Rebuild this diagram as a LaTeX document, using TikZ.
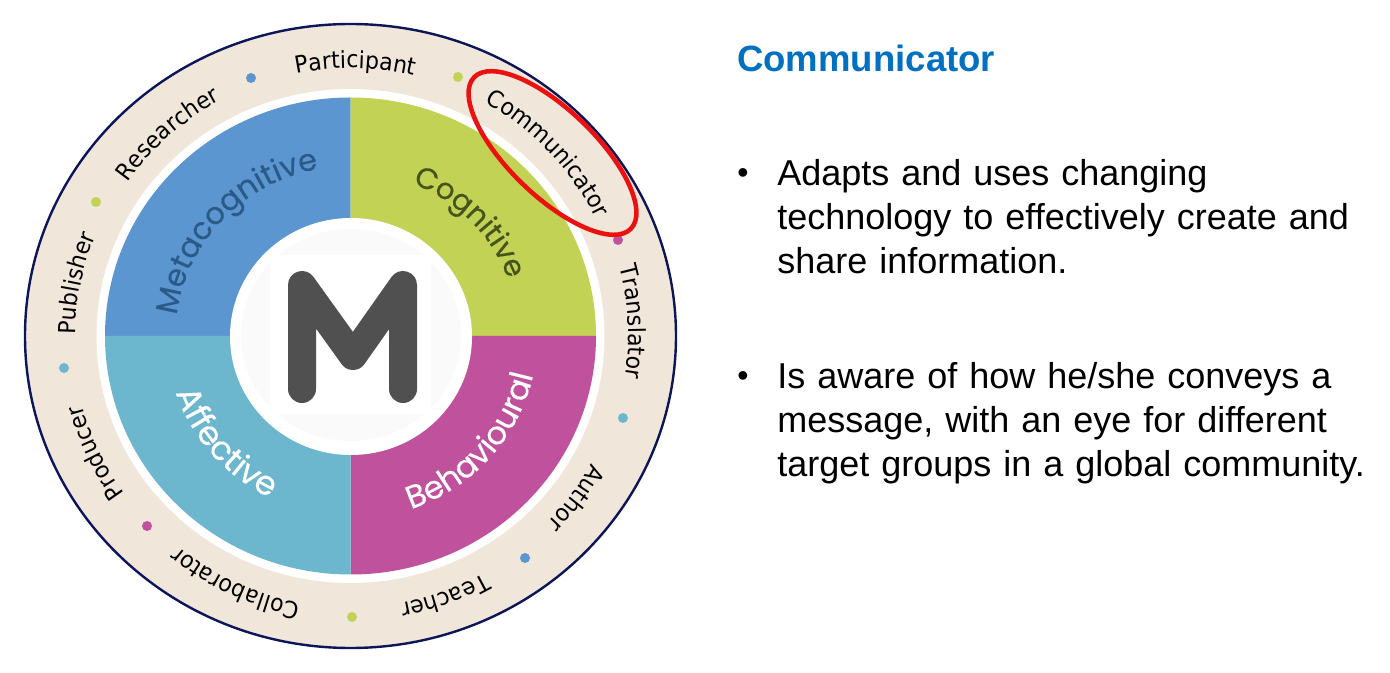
\documentclass[tikz,border=0pt]{standalone}
\usepackage{fontspec}
\setmainfont{Liberation Sans}
\newfontfamily\ringfont[FakeStretch=0.94]{DejaVu Sans}
\newfontfamily\sectorfont[FakeBold=0.25]{Poppins}
\usetikzlibrary{positioning, decorations.text}
\definecolor{ringbg}{HTML}{F0E6DA}
\definecolor{ringline}{HTML}{0B1557}
\definecolor{metabg}{HTML}{5B96D0}
\definecolor{metatext}{HTML}{2A5A88}
\definecolor{cogbg}{HTML}{C1D255}
\definecolor{cogtext}{HTML}{46541C}
\definecolor{affbg}{HTML}{6DB7CE}
\definecolor{behbg}{HTML}{C0519C}
\definecolor{logoline}{HTML}{505050}
\definecolor{logobg}{HTML}{FAFAFA}
\definecolor{titleblue}{HTML}{0070C0}
\definecolor{markred}{HTML}{EC1111}
\tikzset{
  ringlabel/.style={
    decorate,
    decoration={
      text along path,
      text align=center,
      text={|\fontsize{17.6}{20}\ringfont|#1}
    }
  },
  sectorlabel/.style n args={3}{
    decorate,
    decoration={
      text along path,
      text align=center,
      text={|\fontsize{#2}{28}\sectorfont\color{#1}|#3}
    }
  },
  ringdot/.style={
    circle,
    minimum size=7.5pt,
    inner sep=0pt
  },
  heading/.style={
    font=\fontsize{27.4}{32}\selectfont\bfseries,
    text=titleblue,
    inner sep=0pt
  },
  bulletbox/.style={
    font=\fontsize{27}{33}\selectfont,
    text width=480pt,
    align=left,
    inner sep=0pt
  },
  bulletmark/.style={
    font=\fontsize{24}{28}\selectfont,
    inner sep=0pt
  }
}

\begin{document}
\begin{tikzpicture}[x=0.75pt,y=0.75pt]
\useasboundingbox (0,0) rectangle (1390,-673);

% rings
\coordinate (hub) at (350.5,-336);
\fill[ringbg] (hub) ellipse [x radius=325.5, y radius=312];
\draw[ringline, line width=1.8pt] (hub) ellipse [x radius=325.5, y radius=312];
\fill[white] (hub) ellipse [x radius=254, y radius=247];

% sectors
\fill[metabg] (hub) -- ++(-245.5,0) arc[start angle=180, end angle=90, x radius=245.5, y radius=238.5] -- cycle;
\fill[cogbg] (hub) -- ++(0,238.5) arc[start angle=90, end angle=0, x radius=245.5, y radius=238.5] -- cycle;
\fill[behbg] (hub) -- ++(245.5,0) arc[start angle=0, end angle=-90, x radius=245.5, y radius=238.5] -- cycle;
\fill[affbg] (hub) -- ++(0,-238.5) arc[start angle=270, end angle=180, x radius=245.5, y radius=238.5] -- cycle;

% centre
\fill[white] (351,-336.5) ellipse [x radius=121, y radius=118.5];
\fill[logobg] (351,-335) ellipse [x radius=110, y radius=106];
\fill[white] (270,-255) rectangle (431,-414);
\draw[logoline, line width=21pt, line join=round, line cap=round] (302,-389) -- (302,-285) -- (353,-356) -- (403,-285) -- (403,-389);

% ring labels
\path[ringlabel={Participant}] (hub) ++(139:272 and 268) arc[start angle=139, end angle=39, x radius=272, y radius=268];
\path[ringlabel={Communicator}] (hub) ++(93:273 and 268) arc[start angle=93, end angle=-7, x radius=273, y radius=268];
\path[ringlabel={Translator}] (hub) ++(43:278 and 268) arc[start angle=43, end angle=-37, x radius=278, y radius=268];
\path[ringlabel={Author}] (hub) ++(4:274 and 268) arc[start angle=4, end angle=-76, x radius=274, y radius=268];
\path[ringlabel={Teacher}] (hub) ++(-30:272 and 272) arc[start angle=-30, end angle=-110, x radius=272, y radius=272];
\path[ringlabel={Collaborator}] (hub) ++(-65:272 and 272) arc[start angle=-65, end angle=-165, x radius=272, y radius=272];
\path[ringlabel={Producer}] (hub) ++(-115:278 and 270) arc[start angle=-115, end angle=-195, x radius=278, y radius=270];
\path[ringlabel={Publisher}] (hub) ++(209:275 and 268) arc[start angle=209, end angle=129, x radius=275, y radius=268];
\path[ringlabel={Researcher}] (hub) ++(182:272 and 268) arc[start angle=182, end angle=82, x radius=272, y radius=268];

% dots
\node[ringdot, fill=metabg] (dotone) at (251,-78) {};
\node[ringdot, fill=cogbg] (dottwo) at (458,-77) {};
\node[ringdot, fill=behbg] (dotthree) at (618,-240) {};
\node[ringdot, fill=affbg] (dotfour) at (623,-418) {};
\node[ringdot, fill=metabg] (dotfive) at (525,-558) {};
\node[ringdot, fill=cogbg] (dotsix) at (352,-617) {};
\node[ringdot, fill=behbg] (dotseven) at (147,-526) {};
\node[ringdot, fill=affbg] (doteight) at (64,-368) {};
\node[ringdot, fill=cogbg] (dotnine) at (96,-202) {};

% sector labels
\path[sectorlabel={metatext}{23}{Metacognitive}] (hub) ++(192:175 and 170) arc[start angle=192, end angle=82, x radius=175, y radius=170];
\path[sectorlabel={cogtext}{22}{Cognitive}] (hub) ++(94:168 and 164) arc[start angle=94, end angle=-6, x radius=168, y radius=164];
\path[sectorlabel={white}{25}{Affective}] (hub) ++(181:184 and 180) arc[start angle=181, end angle=261, x radius=184, y radius=180];
\path[sectorlabel={white}{24}{Behavioural}] (hub) ++(-94:187 and 183) arc[start angle=-94, end angle=11, x radius=187, y radius=183];

% highlight
\draw[markred, line width=3.4pt] (552.5,-153) ellipse [x radius=109, y radius=43, rotate=-44];

% text column
\node[heading, anchor=west] (title) at (737,-58.5) {Communicator};
\node[bulletbox, anchor=north west] (firstitem) at (777,-159) {Adapts and uses changing\\technology to effectively create and\\share information.};
\node[bulletbox, below=66.5pt of firstitem] (seconditem) {Is aware of how he/she conveys a\\message, with an eye for different\\target groups in a global community.};
\node[bulletmark, anchor=base west] (firstmark) at (737,-184) {•};
\node[bulletmark, anchor=base west] (secondmark) at (737,-387) {•};

\end{tikzpicture}
\end{document}
